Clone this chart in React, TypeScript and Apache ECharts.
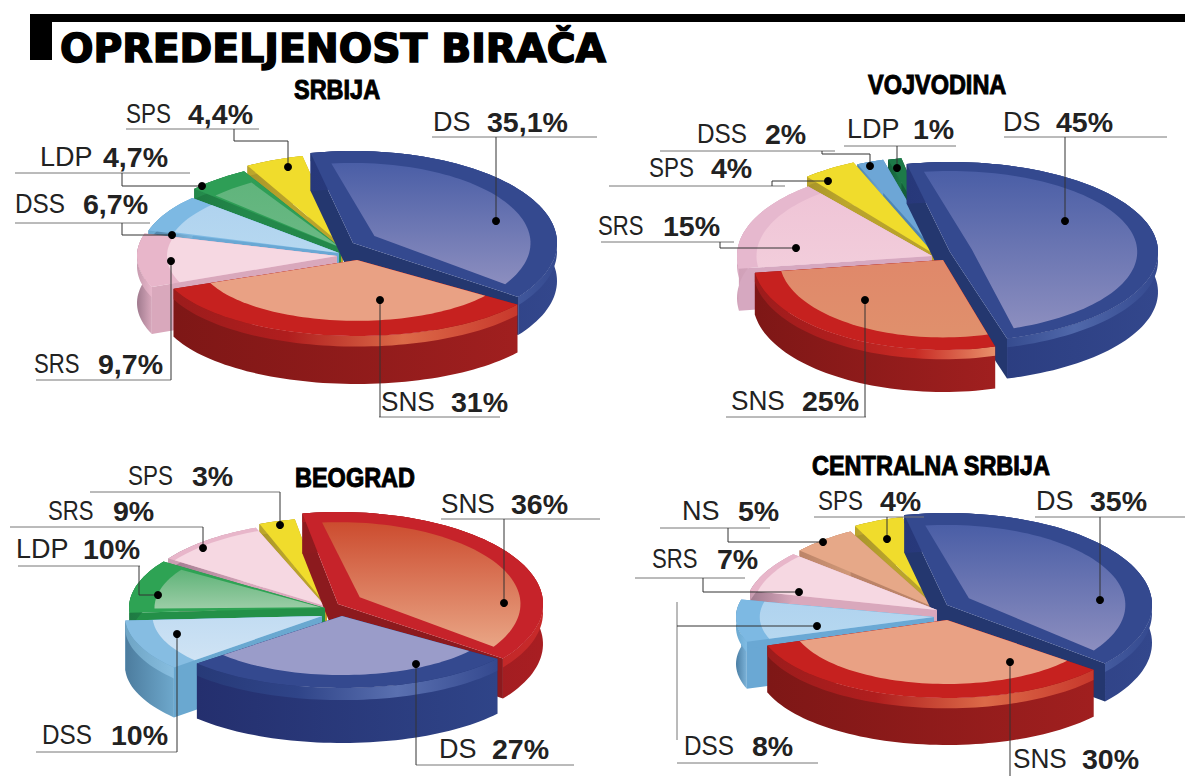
import React, { useEffect, useRef } from "react";
import * as echarts from "echarts";

// ---------- data ----------
const srbijaParties = ["DS", "SNS", "SRS", "DSS", "LDP", "SPS"];
const srbijaValues = [35.1, 31, 9.7, 6.7, 4.7, 4.4];
const vojvodinaParties = ["DS", "SNS", "SRS", "SPS", "DSS", "LDP"];
const vojvodinaValues = [45, 25, 15, 4, 2, 1];
const beogradParties = ["SNS", "DS", "DSS", "LDP", "SRS", "SPS"];
const beogradValues = [36, 27, 10, 10, 9, 3];
const centralnaParties = ["DS", "SNS", "DSS", "SRS", "NS", "SPS"];
const centralnaValues = [35, 30, 8, 7, 5, 4];
const mainTitle = "OPREDELJENOST BIRAČA";

// ---------- palette ----------
const ST: any = {
  blue: { rim: "#34498f", panel: ["#4a5ea6", "#8c8ebf"], cut: "#24376f", band: ["#273a78", "#2f4488", "#5068aa", "#34498f"], wall: ["#27387a", "#33478c"] },
  blueFlat: { rim: "#34498f", panel: ["#9a9cc9", "#9a9cc9"], cut: "#24376f", band: ["#273a78", "#2f4488", "#5a70b0", "#34498f"], wall: ["#242f6e", "#2f4488"] },
  red: { rim: "#c6211f", panel: ["#e9a184", "#e9a184"], cut: "#8e1a1a", band: ["#9c1c1c", "#b01e1e", "#dc6a48", "#c8382c"], wall: ["#7e1716", "#a01f1f"] },
  redDeep: { rim: "#c6211f", panel: ["#e0886a", "#e0906c"], cut: "#8e1a1a", band: ["#9c1c1c", "#b01e1e", "#c82a24", "#e8906a"], wall: ["#7e1716", "#a01f1f"] },
  redGrad: { rim: "#c6232a", panel: ["#cc4c2f", "#e9a585"], cut: "#8c1a1e", band: ["#a81e22", "#c82a2a"], wall: ["#8e1a1e", "#a81e22"] },
  pink: { rim: "#e8b6ca", panel: ["#f6d8e2", "#f6d8e2"], cut: "#d9a8bc", band: ["#c89cb0", "#e8b6ca"], wall: ["#a07a8e", "#d8a8bc"] },
  pink2: { rim: "#e6b8ce", panel: ["#efc4d6", "#f2cddb"], cut: "#d6a8c0", band: ["#d8a8c0", "#e8bcd0"], wall: ["#d0a0b8", "#e0b4c8"] },
  sky: { rim: "#7db9e3", panel: ["#b0d3ef", "#b6d8f0"], cut: "#6aa8d4", band: ["#6aa8d0", "#80bce4"], wall: ["#4a7ea4", "#7db4da"] },
  sky2: { rim: "#86bde2", panel: ["#c2dcf2", "#cfe3f4"], cut: "#6aa8d0", band: ["#6ea4c4", "#88bee0"], wall: ["#4c7c9e", "#6ea8cc"] },
  green: { rim: "#2e9e56", panel: ["#60b47c", "#6ab984"], cut: "#23884a", band: ["#23884a", "#2e9e56"], wall: ["#1e7a42", "#23884a"] },
  green2: { rim: "#2ea354", panel: ["#5fb378", "#9bcda6"], cut: "#239048", band: ["#23884a", "#2e9e56"], wall: ["#1e7a42", "#23884a"] },
  greenDark: { rim: "#1d7a48", panel: ["#1d7a48", "#1d7a48"], cut: "#145f38", band: ["#145f38", "#1d7a48"], wall: ["#145f38", "#1d7a48"] },
  skyDark: { rim: "#6da6d6", panel: ["#6da6d6", "#6da6d6"], cut: "#4f86b4", band: ["#4f86b4", "#6da6d6"], wall: ["#4f86b4", "#6da6d6"] },
  yellow: { rim: "#f0dc2c", panel: ["#f0dc2c", "#f2e23a"], cut: "#b9a32c", band: ["#b9a32c", "#d0ba2c"], wall: ["#a8942a", "#c0aa2c"] },
  salmon: { rim: "#e6a888", panel: ["#eeb090", "#eeb090"], cut: "#bc8468", band: ["#bc8468", "#d09878"], wall: ["#bc8468", "#d09878"] },
};

// ---------- layout ----------
// each slice: style, offset of its tip from the pie's apex, radii [rx, ry], panel [tipInset, deg0, deg1, radiusFactor], wall depth d
const PIES: any[] = [
  {
    title: "SRBIJA", titleX: 294, titleY: 89, parties: srbijaParties, values: srbijaValues,
    apex: [345, 256], start: -12, depth: 47,
    slices: [
      { s: "blue", o: [8, -13], r: [204, 92], p: [16, 5, 5, 0.87], d: 38 },
      { s: "red", o: [12, 4], r: [198, 76], p: [0, 0, 0, 0.8], d: 48 },
      { s: "pink", o: [-8, 0], r: [200, 82], p: [0, 0, 0, 0.85] },
      { s: "sky", o: [-6, -3], r: [198, 82], p: [0, 1, 0, 0.87] },
      { s: "green", o: [-4, -8], r: [198, 88], p: [2, 1, 2, 0.87] },
      { s: "yellow", o: [-2, -10], r: [195, 92], p: [0, 0, 0, 1] },
    ],
    labels: [
      { n: 433, p: 487, y: 131, u: [432, 597, 137], l: [[496, 137], [496, 221]] },
      { n: 381, p: 451, y: 411, u: [379, 500, 417], l: [[380, 417], [380, 300]] },
      { n: 34, p: 98, y: 373, u: [36, 171, 380], l: [[171, 380], [171, 261]] },
      { n: 15, p: 83, y: 213, u: [15, 150, 223], l: [[122, 223], [122, 235], [172, 235]] },
      { n: 40, p: 103, y: 166, u: [15, 190, 173], l: [[122, 173], [122, 186], [202, 186]] },
      { n: 126, p: 188, y: 123, u: [126, 259, 129], l: [[234, 129], [234, 141], [288, 141], [288, 167]] },
    ],
  },
  {
    title: "VOJVODINA", titleX: 868, titleY: 84, parties: vojvodinaParties, values: vojvodinaValues,
    apex: [940, 258], start: -12, depth: 42,
    slices: [
      { s: "blue", o: [10, -6], r: [208, 90], p: [14, 4, 4, 0.9], d: 40 },
      { s: "redDeep", o: [3, 2], r: [190, 90], p: [0, 0, 0, 0.86] },
      { s: "pink2", o: [-8, -2], r: [195, 90], p: [0, 0, 0, 0.9] },
      { s: "yellow", o: [-6, -4], r: [200, 100], p: [0, 0, 0, 1] },
      { s: "skyDark", o: [-2, -4], r: [200, 98], p: [0, 0, 0, 1] },
      { s: "greenDark", o: [3, -4], r: [200, 98], p: [0, 0, 0, 1] },
    ],
    labels: [
      { n: 1003, p: 1056, y: 131, u: [1004, 1167, 137], l: [[1065, 137], [1065, 221]] },
      { n: 731, p: 802, y: 410, u: [726, 866, 417], l: [[865, 417], [865, 300]] },
      { n: 598, p: 663, y: 235, u: [601, 734, 242], l: [[720, 242], [720, 248], [796, 248]] },
      { n: 649, p: 711, y: 177, u: [609, 785, 186], l: [[772, 186], [772, 181], [828, 181]] },
      { n: 697, p: 765, y: 143, u: [660, 835, 151], l: [[822, 151], [822, 154], [870, 154], [870, 166]] },
      { n: 847, p: 913, y: 138, u: [844, 956, 146], l: [[897, 146], [897, 168]] },
    ],
  },
  {
    title: "BEOGRAD", titleX: 295, titleY: 477, parties: beogradParties, values: beogradValues,
    apex: [330, 614], start: -10, depth: 50,
    slices: [
      { s: "redGrad", o: [8, -10], r: [205, 92], p: [16, 5, 5, 0.89], d: 40 },
      { s: "blueFlat", o: [12, 2], r: [193, 72], p: [0, 0, 0, 0.82], d: 55 },
      { s: "sky2", o: [-8, 2], r: [197, 78], p: [0, 0, 0, 0.86] },
      { s: "green2", o: [-5, -6], r: [196, 82], p: [3, 3, 2, 0.87], d: 34 },
      { s: "pink", o: [-5, -8], r: [190, 84], p: [0, 0, 0, 0.96] },
      { s: "yellow", o: [-3, -8], r: [185, 88], p: [0, 0, 0, 1] },
    ],
    labels: [
      { n: 441, p: 511, y: 513, u: [441, 600, 519], l: [[504, 519], [504, 603]] },
      { n: 439, p: 492, y: 758, u: [416, 574, 765], l: [[416, 765], [416, 664]] },
      { n: 42, p: 111, y: 744, u: [36, 177, 752], l: [[177, 752], [177, 634]] },
      { n: 16, p: 83, y: 558, u: [18, 140, 566], l: [[139, 566], [139, 595], [158, 595]] },
      { n: 48, p: 113, y: 520, u: [10, 203, 527], l: [[203, 527], [203, 548]] },
      { n: 128, p: 192, y: 485, u: [90, 280, 492], l: [[280, 492], [280, 525]] },
    ],
  },
  {
    title: "CENTRALNA SRBIJA", titleX: 812, titleY: 465, parties: centralnaParties, values: centralnaValues,
    apex: [942, 617], start: -12, depth: 47,
    slices: [
      { s: "blue", o: [5, -12], r: [205, 92], p: [16, 5, 5, 0.87], d: 38 },
      { s: "red", o: [5, 3], r: [190, 78], p: [0, 0, 0, 0.82] },
      { s: "sky", o: [-8, 0], r: [198, 76], p: [0, 0, 0, 0.88] },
      { s: "pink", o: [-5, -7], r: [192, 84], p: [0, 0, 0, 0.96] },
      { s: "salmon", o: [-4, -8], r: [185, 88], p: [0, 0, 0, 1] },
      { s: "yellow", o: [-2, -10], r: [180, 92], p: [0, 0, 0, 1] },
    ],
    labels: [
      { n: 1036, p: 1090, y: 510, u: [1035, 1185, 517], l: [[1100, 517], [1100, 600]] },
      { n: 1013, p: 1082, y: 768, u: null, l: [[1010, 776], [1010, 662]] },
      { n: 684, p: 752, y: 755, u: [677, 818, 763], l: [[677, 626], [817, 626]], x: [[677, 602], [677, 740]] },
      { n: 652, p: 717, y: 568, u: [635, 745, 578], l: [[703, 578], [703, 592], [799, 592]] },
      { n: 682, p: 738, y: 520, u: [660, 770, 528], l: [[728, 528], [728, 542], [823, 542]] },
      { n: 818, p: 880, y: 510, u: [814, 924, 517], l: [[887, 517], [887, 539]] },
    ],
  },
];

const NAME_SCALE: Record<string, number> = { SPS: 0.83, SRS: 0.82, DSS: 0.9, DS: 1, SNS: 0.97, LDP: 1, NS: 1 };
const FONT = '"Liberation Sans", sans-serif';

const stops = (c: string[]) => c.map((color, i) => ({ offset: i / (c.length - 1), color }));
const vgrad = (c: string[]) => new echarts.graphic.LinearGradient(0, 0, 0, 1, stops(c));
const hgrad = (c: string[]) => new echarts.graphic.LinearGradient(0, 0, 1, 0, stops(c));

function angles(values: number[], start: number) {
  const total = values.reduce((a, b) => a + b, 0);
  let acc = start;
  return values.map((v) => {
    const a0 = acc;
    acc += (v / total) * 360;
    return [a0, acc];
  });
}

function arc(c: number[], r: number[], a0: number, a1: number) {
  const out: number[][] = [];
  const n = Math.max(2, Math.ceil((a1 - a0) / 2));
  for (let i = 0; i <= n; i++) {
    const a = ((a0 + ((a1 - a0) * i) / n) * Math.PI) / 180;
    out.push([c[0] + r[0] * Math.sin(a), c[1] - r[1] * Math.cos(a)]);
  }
  return out;
}

const shift = (pts: number[][], dy: number) => pts.map((p) => [p[0], p[1] + dy]);

function makeRender(pie: any) {
  const ang = angles(pie.values, pie.start);
  return (params: any, api: any) => {
    const i = api.value(1);
    const sl = pie.slices[i];
    const st = ST[sl.s];
    const [a0, a1] = ang[i];
    const c = [pie.apex[0] + sl.o[0], pie.apex[1] + sl.o[1]];
    const rim = arc(c, sl.r, a0, a1);
    const d = sl.d ?? pie.depth;
    const poly = (points: number[][], fill: any) => ({
      type: "polygon",
      shape: { points },
      style: { fill, stroke: null },
      silent: true,
    });
    const bandH = d * 0.22;
    const first = rim[0];
    const last = rim[rim.length - 1];
    const children: any[] = [
      poly([c, first, [first[0], first[1] + d], [c[0], c[1] + d]], st.cut),
      poly([c, last, [last[0], last[1] + d], [c[0], c[1] + d]], st.cut),
      poly([...rim, ...shift(rim, d).reverse()], hgrad(st.wall)),
      poly([...rim, ...shift(rim, bandH).reverse()], hgrad(st.band)),
      poly([c, ...rim], st.rim),
    ];
    const [t, d0, d1, k] = sl.p;
    if (k < 1 || t > 0) {
      const mid = (((a0 + a1) / 2) * Math.PI) / 180;
      const ic = [c[0] + t * Math.sin(mid) * 1.6, c[1] - t * Math.cos(mid) * 0.8];
      const inner = arc(c, [sl.r[0] * k, sl.r[1] * k], a0 + d0, a1 - d1);
      children.push(poly([ic, ...inner], vgrad(st.panel)));
    }
    return { type: "group", children };
  };
}

function textEl(x: number, y: number, text: string, font: string, fill: string, scaleX: number, sw = 0) {
  return {
    type: "text",
    x,
    y,
    scaleX,
    style: { x: 0, y: 0, text, font, fill, stroke: sw ? fill : null, lineWidth: sw, verticalAlign: "middle", align: "left" },
  };
}

function overlay() {
  const els: any[] = [
    { type: "rect", shape: { x: 30, y: 14, width: 1155, height: 8 }, style: { fill: "#000" } },
    { type: "rect", shape: { x: 30, y: 14, width: 22, height: 46 }, style: { fill: "#000" } },
    textEl(60, 49, mainTitle, 'bold 39px "DejaVu Sans", sans-serif', "#000", 1.01, 1.5),
  ];
  PIES.forEach((pie) => {
    els.push(textEl(pie.titleX, pie.titleY, pie.title, `bold 27px ${FONT}`, "#000", 0.87, 1));
    pie.labels.forEach((lb: any, i: number) => {
      const v = String(pie.values[i]).replace(".", ",") + "%";
      const cy = lb.y - 9;
      const party = pie.parties[i];
      els.push(textEl(lb.n, cy, party, `27px ${FONT}`, "#222", NAME_SCALE[party]));
      els.push(textEl(lb.p, cy, v, `bold 28px ${FONT}`, "#222", 1.02));
      if (lb.u) {
        els.push({ type: "line", shape: { x1: lb.u[0], y1: lb.u[2], x2: lb.u[1], y2: lb.u[2] }, style: { stroke: "#777", lineWidth: 1 } });
      }
      els.push({ type: "polyline", shape: { points: lb.l }, style: { stroke: "#333", lineWidth: 1, fill: null }, z: 21 });
      if (lb.x) els.push({ type: "polyline", shape: { points: lb.x }, style: { stroke: "#777", lineWidth: 1, fill: null } });
      const end = lb.l[lb.l.length - 1];
      els.push({ type: "circle", shape: { cx: end[0], cy: end[1], r: 4 }, style: { fill: "#000" }, z: 22 });
    });
  });
  return els;
}

export default function App() {
  const ref = useRef<HTMLDivElement>(null);
  useEffect(() => {
    document.body.style.margin = "0";
    const chart = echarts.init(ref.current!, null, { renderer: "svg" });
    const series = PIES.map((pie) => {
      const ang = angles(pie.values, pie.start);
      const order = pie.values
        .map((_: number, i: number) => i)
        .sort((x: number, y: number) => {
          const mx = ((ang[x][0] + ang[x][1]) / 2) * (Math.PI / 180);
          const my = ((ang[y][0] + ang[y][1]) / 2) * (Math.PI / 180);
          return -Math.cos(mx) - -Math.cos(my);
        });
      return {
        type: "custom",
        name: pie.title,
        coordinateSystem: "none",
        silent: true,
        renderItem: makeRender(pie),
        data: order.map((i: number) => ({ name: pie.parties[i], value: [pie.values[i], i] })),
      };
    });
    chart.setOption({
      animation: false,
      backgroundColor: "#fff",
      tooltip: { show: false },
      series,
      graphic: { elements: overlay().map((e) => ({ ...e, z: e.z ?? 20, silent: true })) },
    });
    return () => chart.dispose();
  }, []);
  return <div ref={ref} style={{ width: 1185, height: 776, position: "absolute", left: 0, top: 0 }} />;
}
